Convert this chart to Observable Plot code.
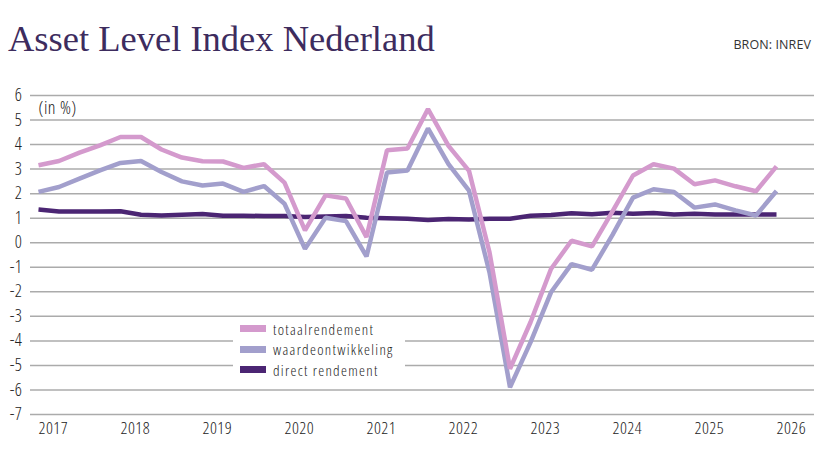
<!DOCTYPE html>
<html>
<head>
<meta charset="utf-8">
<script src="https://cdn.jsdelivr.net/npm/d3@7"></script>
<script src="https://cdn.jsdelivr.net/npm/@observablehq/plot@0.6"></script>
<style>
  body { margin: 0; background: #fff; }
  #wrap { position: relative; width: 814px; height: 458px; overflow: hidden;
          font-family: "Open Sans", sans-serif; font-stretch: 75%; font-weight: 300; color: #333; }
  #head { position: relative; height: 70px; }
  #title { position: absolute; left: 8px; top: 17px; white-space: nowrap; font-stretch: normal; font-weight: 400;
           font-family: "Liberation Serif", serif; font-size: 36.5px; color: #3d2c5e; }
  #source { position: absolute; right: 3px; top: 36px; font-size: 12.5px; font-stretch: 100%; font-weight: 400;
            color: #333; letter-spacing: 0.1px; }
  #legend { position: absolute; left: 233px; top: 317px; width: 172px; height: 63px; background: #fff; }
  .row { position: absolute; left: 7px; height: 20px; line-height: 20px; display: flex; align-items: center;
         font-size: 15px; letter-spacing: 1.3px; color: #222; white-space: nowrap; }
  .sw { width: 26px; height: 7px; margin-right: 7px; }
</style>
</head>
<body>
<div id="wrap">
  <div id="head">
    <div id="title">Asset Level Index Nederland</div>
    <div id="source">BRON: INREV</div>
  </div>
  <div id="chart"></div>
  <div id="legend"></div>
</div>
<script>
// Quarterly returns, in %
const periods = [
  "2017Q1","2017Q2","2017Q3","2017Q4",
  "2018Q1","2018Q2","2018Q3","2018Q4",
  "2019Q1","2019Q2","2019Q3","2019Q4",
  "2020Q1","2020Q2","2020Q3","2020Q4",
  "2021Q1","2021Q2","2021Q3","2021Q4",
  "2022Q1","2022Q2","2022Q3","2022Q4",
  "2023Q1","2023Q2","2023Q3","2023Q4",
  "2024Q1","2024Q2","2024Q3","2024Q4",
  "2025Q1","2025Q2","2025Q3","2025Q4",
  "2026Q1"
];
const totaalrendement = [
  3.16, 3.33, 3.67, 3.97,
  4.31, 4.31, 3.80, 3.47,
  3.32, 3.31, 3.05, 3.20,
  2.45, 0.50, 1.93, 1.80,
  0.23, 3.77, 3.84, 5.45,
  3.95, 2.93, -0.39, -5.14,
  -3.24, -1.07, 0.08, -0.15,
  1.28, 2.74, 3.20, 3.02,
  2.38, 2.54, 2.30, 2.10,
  3.11
];
const waardeontwikkeling = [
  2.07, 2.27, 2.61, 2.95,
  3.25, 3.33, 2.88, 2.50,
  2.33, 2.41, 2.07, 2.31,
  1.59, -0.25, 1.02, 0.88,
  -0.56, 2.86, 2.94, 4.66,
  3.20, 2.12, -1.21, -5.89,
  -4.06, -2.02, -0.87, -1.10,
  0.32, 1.84, 2.18, 2.07,
  1.43, 1.56, 1.32, 1.11,
  2.11
];
const directRendement = [
  1.35, 1.27, 1.27, 1.27,
  1.28, 1.14, 1.11, 1.14,
  1.17, 1.10, 1.10, 1.09,
  1.09, 1.05, 1.07, 1.09,
  1.02, 1.00, 0.98, 0.93,
  0.97, 0.95, 0.98, 0.98,
  1.10, 1.13, 1.20, 1.16,
  1.22, 1.18, 1.21, 1.15,
  1.18, 1.15, 1.15, 1.15,
  1.15
];
const yearTicks = [2017, 2018, 2019, 2020, 2021, 2022, 2023, 2024, 2025, 2026];
const valueTicks = [-7, -6, -5, -4, -3, -2, -1, 0, 1, 2, 3, 4, 5, 6];

const series = [
  { name: "totaalrendement", values: totaalrendement, color: "#d49acd" },
  { name: "waardeontwikkeling", values: waardeontwikkeling, color: "#a29fcc" },
  { name: "direct rendement", values: directRendement, color: "#4b2573" }
];

// "2019Q3" -> 2019.5
const toYear = p => +p.slice(0, 4) + (+p.slice(5) - 1) / 4;
const rows = s => periods.map((p, i) => ({ t: toYear(p), v: s.values[i] }));

const chart = Plot.plot({
  width: 814,
  height: 388,
  marginTop: 25,
  marginBottom: 44,
  marginLeft: 30,
  marginRight: 0,
  style: { fontFamily: "'Open Sans', sans-serif", fontStretch: "75%", fontWeight: 300, fontSize: "17px",
           letterSpacing: "0.5px", color: "#222", background: "#fff" },
  x: { type: "linear", domain: [2017 - 8 / 82, 2026 + 38 / 82] },
  y: { domain: [-7, 6] },
  marks: [
    Plot.ruleY(valueTicks, { stroke: "#ababab", strokeWidth: 1.5 }),
    Plot.axisY({ ticks: valueTicks, tickSize: 0, tickPadding: 8, tickFormat: d => String(d), label: null, fontSize: 17.5 }),
    Plot.axisX({ ticks: yearTicks, tickSize: 0, tickPadding: 7, tickFormat: d => String(d), textAnchor: "start", label: null }),
    Plot.text(["(in %)"], { frameAnchor: "top-left", dx: 8, dy: 13, textAnchor: "start", lineAnchor: "middle", fontSize: 18 }),
    ...series.slice().reverse().map(s =>
      Plot.line(rows(s), { x: "t", y: "v", stroke: s.color, strokeWidth: 4.5, strokeLinejoin: "miter", strokeLinecap: "butt" })
    )
  ]
});
document.getElementById("chart").appendChild(chart);

// Legend block
const legend = document.getElementById("legend");
series.forEach((s, i) => {
  const row = document.createElement("div");
  row.className = "row";
  row.style.top = (1.5 + i * 20.5) + "px";
  const sw = document.createElement("div");
  sw.className = "sw";
  sw.style.background = s.color;
  const label = document.createElement("span");
  label.textContent = s.name;
  row.appendChild(sw);
  row.appendChild(label);
  legend.appendChild(row);
});
</script>
</body>
</html>
